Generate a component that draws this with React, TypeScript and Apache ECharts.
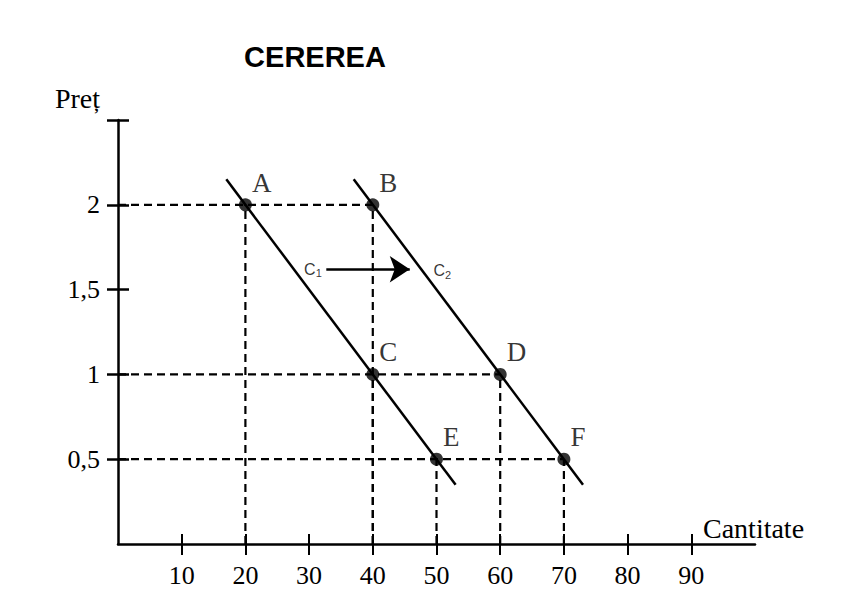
import React, { useEffect, useRef } from 'react';
import * as echarts from 'echarts';

const titleText = 'CEREREA';
const xName = 'Cantitate';
const yName = 'Preț';
const xTicks = [10, 20, 30, 40, 50, 60, 70, 80, 90];
const yTicks = [0.5, 1, 1.5, 2];
const yTickMarks = [0.5, 1, 1.5, 2, 2.5];
const xMax = 100;
const yMax = 2.5;
const pointNames = ['A', 'B', 'C', 'D', 'E', 'F'];
const pointX = [20, 40, 40, 60, 50, 70];
const pointY = [2, 2, 1, 1, 0.5, 0.5];
const c1X = [17, 53];
const c1Y = [2.15, 0.35];
const c2X = [37, 73];
const c2Y = [2.15, 0.35];
const arrowX = [32.7, 45.8];
const arrowY = [1.62, 1.62];
const curveLabels = ['1', '2'];
const curveLabelX = [30.6, 50.9];
const curveLabelY = [1.62, 1.61];

const SERIF = '"Liberation Serif", "Times New Roman", serif';
const SANS = '"Liberation Sans", Arial, sans-serif';

export default function App() {
  const ref = useRef<HTMLDivElement>(null);
  useEffect(() => {
    if (!ref.current) return;
    const chart = echarts.init(ref.current, null, { renderer: 'svg' });

    const dash = { color: '#000', width: 2.2, type: [8, 5] as any };
    const series: any[] = [];

    const uniqY = Array.from(new Set(pointY));
    uniqY.forEach((y) => {
      const maxX = Math.max(...pointX.filter((_, i) => pointY[i] === y));
      series.push({
        type: 'line', data: [[0, y], [maxX, y]], symbol: 'none', lineStyle: dash, silent: true, z: 2,
      });
    });
    pointX.forEach((x, i) => {
      series.push({
        type: 'line', data: [[x, 0], [x, pointY[i]]], symbol: 'none', lineStyle: dash, silent: true, z: 2,
      });
    });
    [[c1X, c1Y], [c2X, c2Y]].forEach(([xs, ys]) => {
      series.push({
        type: 'line', data: xs.map((x, i) => [x, ys[i]]), symbol: 'none',
        lineStyle: { color: '#000', width: 2.5 }, z: 3,
      });
    });
    series.push({
      type: 'lines', coordinateSystem: 'cartesian2d', z: 4,
      symbol: ['none', 'arrow'], symbolSize: [12, 20],
      lineStyle: { color: '#000', width: 2.5, opacity: 1 },
      data: [{ coords: arrowX.map((x, i) => [x, arrowY[i]]) }],
    });
    series.push({
      type: 'scatter', symbolSize: 0, z: 5,
      data: curveLabelX.map((x, i) => ({ value: [x, curveLabelY[i]], name: curveLabels[i] })),
      label: {
        show: true, position: 'inside',
        formatter: (p: any) => `{c|C}{s|${p.name}}`,
        rich: {
          c: { fontFamily: SANS, fontSize: 16, color: '#000' },
          s: { fontFamily: SANS, fontSize: 11, color: '#000', verticalAlign: 'bottom', padding: [8, 0, 0, 0] },
        },
      },
    });
    series.push({
      type: 'scatter', symbol: 'circle', symbolSize: 13, z: 6,
      itemStyle: { color: '#000' },
      data: pointX.map((x, i) => ({ value: [x, pointY[i]], name: pointNames[i] })),
      label: {
        show: true, position: 'right', distance: 0, offset: [0, -22],
        formatter: (p: any) => p.name,
        fontFamily: SERIF, fontSize: 27, color: '#000',
      },
    });

    const axisLine = { show: true, lineStyle: { color: '#000', width: 2.5 } };
    chart.setOption({
      animation: false,
      backgroundColor: '#fff',
      title: {
        text: titleText, left: 310, top: 37, textAlign: 'center',
        textStyle: { fontFamily: SANS, fontWeight: 'bold', fontSize: 29, color: '#000' },
      },
      grid: { left: 118, right: 101, top: 120, bottom: 54 },
      xAxis: [
        {
          type: 'value', min: 0, max: xMax, position: 'bottom',
          axisLine,
          axisTick: { show: true, customValues: xTicks, length: 11, lineStyle: { color: '#000', width: 2 } },
          axisLabel: { customValues: xTicks, margin: 18, fontFamily: SERIF, fontSize: 26, color: '#000' },
          splitLine: { show: false },
          name: xName, nameLocation: 'end', nameGap: -52,
          nameTextStyle: { fontFamily: SERIF, fontSize: 28, color: '#000', align: 'left', verticalAlign: 'bottom', padding: [0, 0, 2, 0] },
        },
        {
          type: 'value', min: 0, max: xMax, position: 'bottom',
          axisLine: { show: false },
          axisTick: { show: true, inside: true, customValues: xTicks, length: 10, lineStyle: { color: '#000', width: 2 } },
          axisLabel: { show: false },
          splitLine: { show: false },
        },
      ],
      yAxis: [
        {
          type: 'value', min: 0, max: yMax, position: 'left',
          axisLine,
          axisTick: { show: true, customValues: yTickMarks, length: 11, lineStyle: { color: '#000', width: 2.5 } },
          axisLabel: {
            customValues: yTicks, margin: 18, fontFamily: SERIF, fontSize: 26, color: '#000',
            formatter: (v: number) => String(v).replace('.', ','),
          },
          splitLine: { show: false },
          name: yName, nameLocation: 'end', nameGap: 8,
          nameTextStyle: { fontFamily: SERIF, fontSize: 28, color: '#000', align: 'right', verticalAlign: 'bottom', padding: [0, 18, 0, 0] },
        },
        {
          type: 'value', min: 0, max: yMax, position: 'left',
          axisLine: { show: false },
          axisTick: { show: true, inside: true, customValues: yTickMarks, length: 11, lineStyle: { color: '#000', width: 2.5 } },
          axisLabel: { show: false },
          splitLine: { show: false },
        },
      ],
      series,
    });
    return () => chart.dispose();
  }, []);
  return <div ref={ref} style={{ width: 856, height: 598, position: 'absolute', left: 0, top: 0 }} />;
}
